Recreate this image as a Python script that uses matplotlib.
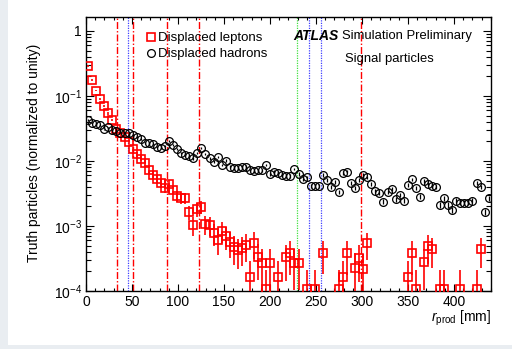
import numpy as np
import matplotlib
matplotlib.use('Agg')
import matplotlib.pyplot as plt
from matplotlib.lines import Line2D
from matplotlib.patches import Rectangle
from matplotlib.ticker import FixedLocator, FixedFormatter, LogLocator, MultipleLocator, NullFormatter

plt.rcParams['font.family'] = ['Liberation Sans', 'DejaVu Sans']
plt.rcParams['mathtext.fontset'] = 'custom'
plt.rcParams['mathtext.rm'] = 'Liberation Sans'
plt.rcParams['mathtext.it'] = 'Liberation Sans:italic'
plt.rcParams['mathtext.bf'] = 'Liberation Sans:bold'

# ---------------- data ----------------
x_min, x_max = 0.0, 440.0
n_bins = 100

leptons = [
    0.289, 0.176, 0.121, 0.0889, 0.0702, 0.0541, 0.0427, 0.031, 0.0267, 0.0232,
    0.0195, 0.0153, 0.0128, 0.0109, 0.00932, 0.00727, 0.00609, 0.00528, 0.00459, 0.00384,
    0.00442, 0.00358, 0.0029, 0.0027, 0.0027, 0.00164, 0.00104, 0.00183, 0.00196, 0.00107,
    0.00104, 0.00078, 0.000609, 0.000838, 0.000702, 0.000573, 0.00048, 0.000427, 0.000464, 0.00051,
    0.000162, 0.000553, 0.000337, 0.000267, 0.000106, 0.000273, 0, 0.000162, 0, 0.00033,
    0.00038, 0.000273, 0.000273, 0, 0.000106, 0, 0.000106, 0, 0.000388, 0,
    0, 0, 0.000106, 0.000162, 0.00038, 0, 0.000226, 0.000322, 0.000218, 0.000541,
    0, 0, 0, 0, 0, 0, 0, 0, 0, 0.000162,
    0.00038, 0.000106, 0, 0.000276, 0.000492, 0.000438, 0, 0.000106, 0.000106, 0,
    0, 0, 0.000106, 0, 0, 0, 0.000106, 0.000438, 0, 0,
]

hadrons = [
    0.0428, 0.0388, 0.0371, 0.0358, 0.0307, 0.033, 0.030, 0.0289, 0.0273, 0.0267,
    0.0273, 0.0251, 0.0232, 0.0216, 0.0191, 0.0187, 0.0181, 0.0166, 0.0157, 0.017,
    0.0205, 0.0176, 0.0151, 0.0134, 0.0124, 0.0119, 0.011, 0.0133, 0.016, 0.0128,
    0.011, 0.00975, 0.0114, 0.00869, 0.0101, 0.0082, 0.0077, 0.0077, 0.0082, 0.0082,
    0.00727, 0.00702, 0.00727, 0.00727, 0.00869, 0.00631, 0.00685, 0.0066, 0.00609, 0.00588,
    0.00588, 0.00753, 0.00631, 0.00523, 0.0056, 0.00412, 0.00412, 0.00412, 0.00609, 0.0051,
    0.00394, 0.0048, 0.00337, 0.00654, 0.00685, 0.00454, 0.0038, 0.0051, 0.00609, 0.0056,
    0.00438, 0.0035, 0.00325, 0.00236, 0.00337, 0.00367, 0.00257, 0.003, 0.00245, 0.00427,
    0.00523, 0.0038, 0.00282, 0.00497, 0.00442, 0.00412, 0.00394, 0.0021, 0.00267, 0.0021,
    0.00176, 0.00245, 0.00228, 0.00228, 0.00228, 0.00245, 0.00464, 0.00403, 0.00166, 0.00267,
]

# weight of a single entry (smallest visible level), used for Poisson error bars
lepton_unit_weight = 1.06e-4
hadron_unit_weight = 2.0e-5

# detector layer radii [mm]
red_lines = [33.25, 50.5, 88.5, 122.5, 299.0]
blue_lines = [46.0, 242.0, 255.0]
green_lines = [229.0]

y_ticks = [1e-4, 1e-3, 1e-2, 1e-1, 1.0]
y_tick_labels = [r'10$^{-4}$', r'10$^{-3}$', r'10$^{-2}$', r'10$^{-1}$', '1']
x_ticks = [0, 50, 100, 150, 200, 250, 300, 350, 400]

# ---------------- figure ----------------
W, H = 512, 349
fig = plt.figure(figsize=(W / 100, H / 100), dpi=100)
fig.patch.set_facecolor('white')

# light slide frame (left and bottom strips)
fig.patches.append(Rectangle((0, 0), 8 / W, 1, transform=fig.transFigure,
                             facecolor='#e9edf1', edgecolor='none', zorder=0))
fig.patches.append(Rectangle((0, 0), 1, 4 / H, transform=fig.transFigure,
                             facecolor='#e9edf1', edgecolor='none', zorder=0))

ax = fig.add_axes([86.1 / W, 1 - 291 / H, 404.6 / W, 274 / H])
ax.set_yscale('log', nonpositive='clip')
ax.set_xlim(x_min, x_max)
ax.set_ylim(1e-4, 1.64)

edges = np.linspace(x_min, x_max, n_bins + 1)
centers = 0.5 * (edges[:-1] + edges[1:])

lep = np.array(leptons, dtype=float)
had = np.array(hadrons, dtype=float)
lm = lep > 0
hm = had > 0
lep_err = np.sqrt(lep * lepton_unit_weight)
had_err = np.sqrt(had * hadron_unit_weight)

for xv in red_lines:
    ax.axvline(xv, color='#ff0000', lw=1.0, ls=(0, (5, 1.5, 1, 1.5)), zorder=1)
for xv in blue_lines:
    ax.axvline(xv, color='#4040ff', lw=0.9, ls=(0, (1, 1)), zorder=1)
for xv in green_lines:
    ax.axvline(xv, color='#40e040', lw=0.9, ls=(0, (1, 1)), zorder=1)

lo = np.minimum(lep_err, lep - 1e-9)
ax.errorbar(centers[lm], lep[lm], yerr=[lo[lm], lep_err[lm]], fmt='s', ms=5.5,
            mfc='none', mec='#ff0000', mew=1.2, ecolor='#ff0000', elinewidth=1.2,
            capsize=0, zorder=4)
ax.errorbar(centers[hm], had[hm], yerr=had_err[hm], fmt='o', ms=5.6,
            mfc='none', mec='black', mew=0.9, ecolor='black', elinewidth=0.9,
            capsize=0, zorder=5)

# axes styling
for s in ax.spines.values():
    s.set_linewidth(1.0)
ax.xaxis.set_major_locator(FixedLocator(x_ticks))
ax.xaxis.set_minor_locator(MultipleLocator(10))
ax.yaxis.set_major_locator(FixedLocator(y_ticks))
ax.yaxis.set_major_formatter(FixedFormatter(y_tick_labels))
ax.yaxis.set_minor_locator(LogLocator(base=10, subs=np.arange(2, 10)))
ax.yaxis.set_minor_formatter(NullFormatter())
ax.tick_params(axis='both', which='both', direction='in', top=True, right=True,
               labelsize=10, width=0.8)
ax.tick_params(axis='x', which='major', length=5, pad=3)
ax.tick_params(axis='x', which='minor', length=2.5)
ax.tick_params(axis='y', which='major', length=6, pad=3)
ax.tick_params(axis='y', which='minor', length=3.5)

# legend
handles = [
    Line2D([], [], ls='none', marker='s', ms=5.5, mfc='none', mec='#ff0000', mew=1.2),
    Line2D([], [], ls='none', marker='o', ms=5.6, mfc='none', mec='black', mew=0.9),
]
fig.legend(handles, ['Displaced leptons', 'Displaced hadrons'], loc='upper left',
           bbox_to_anchor=(146 / W, 1 - 32 / H), frameon=False, fontsize=9.5,
           handlelength=0.7, handletextpad=0.2, labelspacing=0.3,
           borderpad=0, borderaxespad=0)

fig.text(293 / W, 1 - 36 / H, 'ATLAS', fontsize=10, fontweight='bold',
         fontstyle='italic', va='center', ha='left')
fig.text(342 / W, 1 - 36 / H, 'Simulation Preliminary', fontsize=9.4,
         va='center', ha='left')
fig.text(345 / W, 1 - 59 / H, 'Signal particles', fontsize=9.4,
         va='center', ha='left')

fig.text(491 / W, 1 - 318 / H, r'$r_{\mathrm{prod}}$ [mm]', fontsize=10,
         ha='right', va='center')
fig.text(34 / W, 1 - 153 / H, 'Truth particles (normalized to unity)',
         fontsize=10, rotation=90, ha='center', va='center')

fig.savefig('out.png', dpi=100, facecolor=fig.get_facecolor())
